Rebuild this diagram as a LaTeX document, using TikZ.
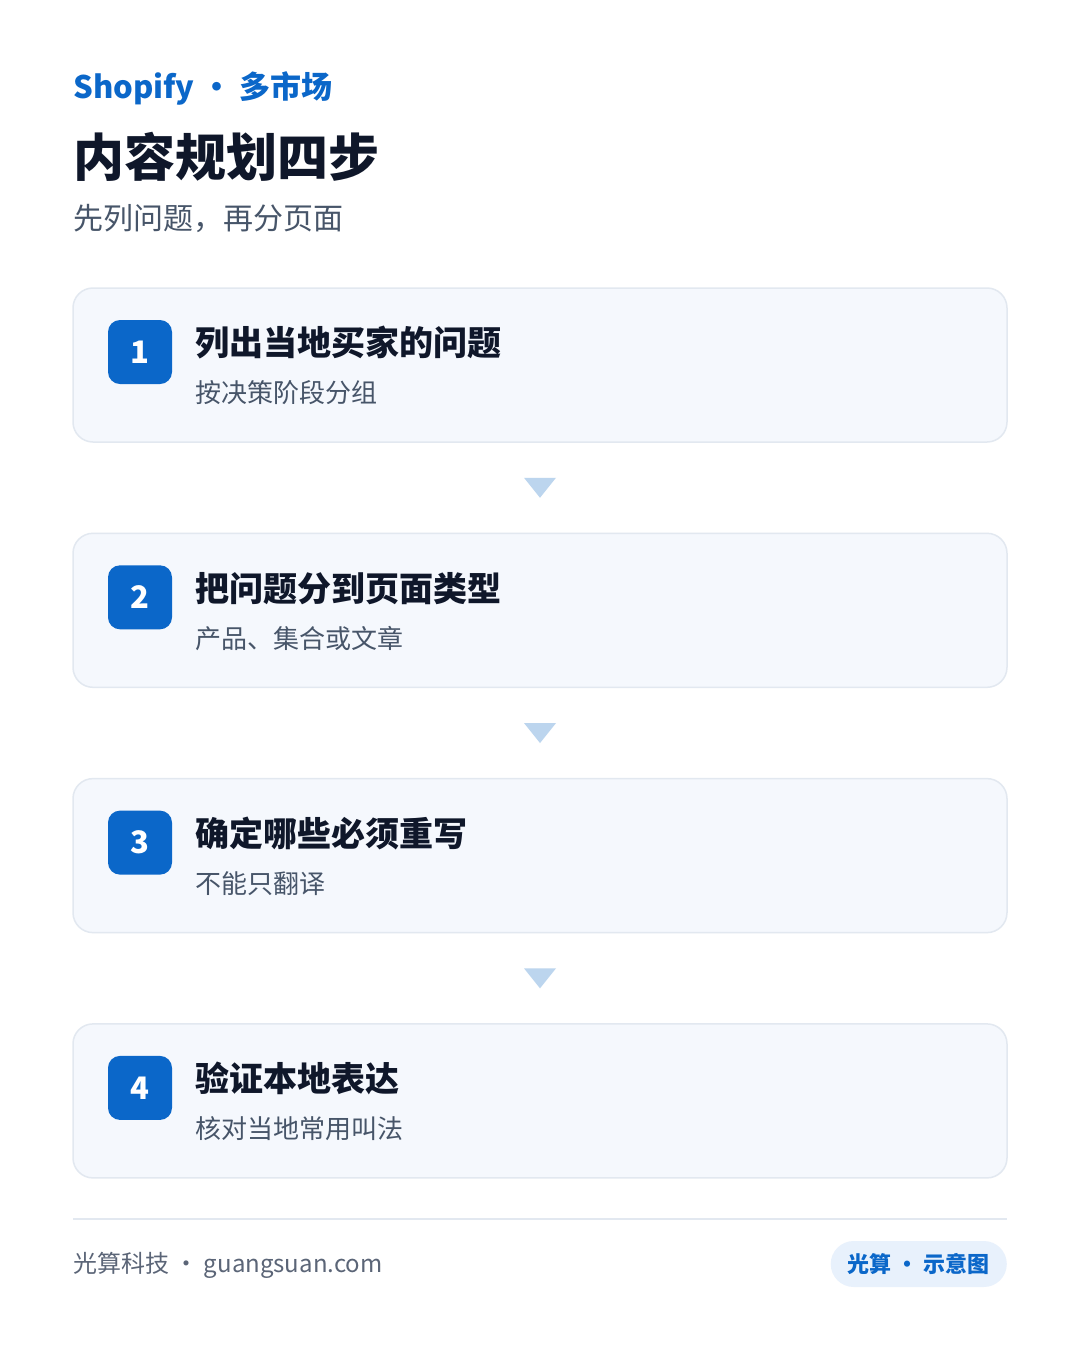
\documentclass[tikz,border=0pt]{standalone}
\usepackage{fontspec}
\setmainfont{Noto Sans CJK SC}
\usepackage{xcolor}
\usetikzlibrary{positioning,calc}

\definecolor{brandblue}{HTML}{0B67C9}
\definecolor{inkdark}{HTML}{0F172A}
\definecolor{inkgray}{HTML}{475569}
\definecolor{footgray}{HTML}{5B6577}
\definecolor{cardfill}{HTML}{F5F8FD}
\definecolor{cardline}{HTML}{E2E8F0}
\definecolor{trifill}{HTML}{BCD5EE}
\definecolor{pillfill}{HTML}{E8F1FC}

\newcommand{\fsz}[1]{\fontsize{#1}{#1}\selectfont}

\tikzset{
    card/.style={draw=cardline, line width=1.5pt, fill=cardfill, rounded corners=20pt,
        minimum width=934pt, minimum height=154pt, inner sep=0pt},
    badge/.style={fill=brandblue, rounded corners=12pt, minimum size=64pt, inner sep=0pt,
        text=white, font=\fsz{31}\bfseries},
    headtext/.style={anchor=west, inner sep=0pt, text=inkdark, font=\fsz{34}\bfseries},
    subtext/.style={anchor=west, inner sep=0pt, text=inkgray, font=\fsz{26}},
    flowtri/.style={fill=trifill},
    pill/.style={fill=pillfill, rounded corners=23pt, minimum height=46pt, inner xsep=17pt,
        text=brandblue, font=\fsz{22}\bfseries}
}

\begin{document}
\begin{tikzpicture}[x=1pt, y=-1pt]
    \useasboundingbox[fill=white] (0,0) rectangle (1080,1350);

    % Header
    \node[anchor=west, inner sep=0pt, text=brandblue, font=\fsz{31}\bfseries] (kicker) at (73,88) {Shopify · 多市场};
    \node[anchor=west, inner sep=0pt, text=inkdark, font=\fsz{51}\bfseries] (title) at (73,157) {内容规划四步};
    \node[anchor=west, inner sep=0pt, text=inkgray, font=\fsz{30}] (subtitle) at (73,218) {先列问题，再分页面};

    % Steps
    \foreach \i/\head/\sub in {1/列出当地买家的问题/按决策阶段分组,
                               2/把问题分到页面类型/产品、集合或文章,
                               3/确定哪些必须重写/不能只翻译,
                               4/验证本地表达/核对当地常用叫法} {
        \pgfmathsetmacro{\top}{288+(\i-1)*245.3}
        \node[card] (card\i) at (540,\top+77) {};
        \node[badge] (badge\i) at (140,\top+64) {\i};
        \node[headtext] (head\i) at ($(badge\i.east)+(23,-9)$) {\head};
        \node[subtext] (sub\i) at ($(head\i.west)+(0,50)$) {\sub};
    }

    % Arrows between steps
    \foreach \i in {1,2,3}
        \fill[flowtri] ($(card\i.south)+(-16,35)$) -- ++(32,0) -- ++(-16,20) -- cycle;

    % Footer
    \coordinate (ruleL) at (73,1219);
    \coordinate (ruleR) at (1007,1219);
    \draw[cardline, line width=2pt] (ruleL) -- (ruleR);
    \node[anchor=west, inner sep=0pt, text=footgray, font=\fsz{24}] (brand) at (73,1265) {光算科技 · guangsuan.com};
    \node[pill, anchor=east] (tag) at (1007,1264) {光算 · 示意图};
\end{tikzpicture}
\end{document}
